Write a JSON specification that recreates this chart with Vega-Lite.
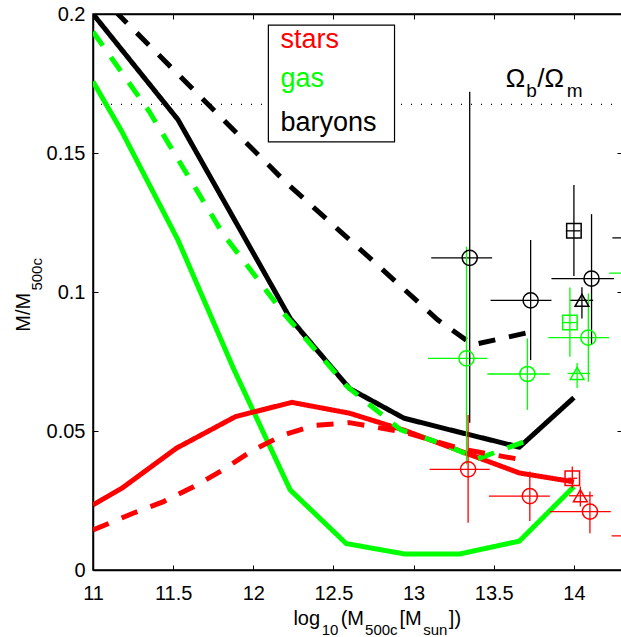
{
  "$schema": "https://vega.github.io/schema/vega-lite/v6.json",
  "width": 529,
  "height": 556,
  "autosize": {"type": "none"},
  "padding": {"left": 93, "top": 14, "right": 0, "bottom": 67},
  "background": "white",
  "config": {
    "view": {"stroke": "black", "strokeWidth": 1.5},
    "font": "Liberation Sans",
    "axis": {"grid": false, "domainColor": "black", "domainWidth": 1.5, "tickColor": "black", "tickWidth": 1, "tickSize": -5, "labelFont": "Liberation Sans", "labelFontSize": 20, "labelColor": "black"},
    "text": {"font": "Liberation Sans", "baseline": "alphabetic", "align": "left", "color": "black"}
  },
  "datasets": {
    "curves": [
      {"component": "baryons", "run": "A", "logM": 11.0, "frac": 0.2},
      {"component": "baryons", "run": "A", "logM": 11.53, "frac": 0.162},
      {"component": "baryons", "run": "A", "logM": 12.23, "frac": 0.0905},
      {"component": "baryons", "run": "A", "logM": 12.6, "frac": 0.0653},
      {"component": "baryons", "run": "A", "logM": 12.94, "frac": 0.0546},
      {"component": "baryons", "run": "A", "logM": 13.29, "frac": 0.0495},
      {"component": "baryons", "run": "A", "logM": 13.66, "frac": 0.0442},
      {"component": "baryons", "run": "A", "logM": 14.0, "frac": 0.062},
      {"component": "gas", "run": "A", "logM": 11.0, "frac": 0.1757},
      {"component": "gas", "run": "A", "logM": 11.18, "frac": 0.1577},
      {"component": "gas", "run": "A", "logM": 11.53, "frac": 0.1187},
      {"component": "gas", "run": "A", "logM": 11.88, "frac": 0.072},
      {"component": "gas", "run": "A", "logM": 12.23, "frac": 0.0288},
      {"component": "gas", "run": "A", "logM": 12.58, "frac": 0.0095},
      {"component": "gas", "run": "A", "logM": 12.94, "frac": 0.0058},
      {"component": "gas", "run": "A", "logM": 13.29, "frac": 0.0058},
      {"component": "gas", "run": "A", "logM": 13.66, "frac": 0.0104},
      {"component": "gas", "run": "A", "logM": 14.0, "frac": 0.03},
      {"component": "stars", "run": "A", "logM": 11.0, "frac": 0.0234},
      {"component": "stars", "run": "A", "logM": 11.18, "frac": 0.0294},
      {"component": "stars", "run": "A", "logM": 11.52, "frac": 0.0438},
      {"component": "stars", "run": "A", "logM": 11.89, "frac": 0.0552},
      {"component": "stars", "run": "A", "logM": 12.24, "frac": 0.0603},
      {"component": "stars", "run": "A", "logM": 12.6, "frac": 0.0564},
      {"component": "stars", "run": "A", "logM": 12.94, "frac": 0.0503},
      {"component": "stars", "run": "A", "logM": 13.29, "frac": 0.0428},
      {"component": "stars", "run": "A", "logM": 13.66, "frac": 0.0349},
      {"component": "stars", "run": "A", "logM": 14.0, "frac": 0.0317},
      {"component": "baryons", "run": "B", "logM": 11.0, "frac": 0.209},
      {"component": "baryons", "run": "B", "logM": 12.2, "frac": 0.1396},
      {"component": "baryons", "run": "B", "logM": 12.75, "frac": 0.111},
      {"component": "baryons", "run": "B", "logM": 13.15, "frac": 0.09},
      {"component": "baryons", "run": "B", "logM": 13.37, "frac": 0.081},
      {"component": "baryons", "run": "B", "logM": 13.73, "frac": 0.0856},
      {"component": "gas", "run": "B", "logM": 11.0, "frac": 0.1936},
      {"component": "gas", "run": "B", "logM": 11.35, "frac": 0.165},
      {"component": "gas", "run": "B", "logM": 11.81, "frac": 0.121},
      {"component": "gas", "run": "B", "logM": 12.19, "frac": 0.0923},
      {"component": "gas", "run": "B", "logM": 12.585, "frac": 0.066},
      {"component": "gas", "run": "B", "logM": 12.92, "frac": 0.0504},
      {"component": "gas", "run": "B", "logM": 13.17, "frac": 0.0456},
      {"component": "gas", "run": "B", "logM": 13.4, "frac": 0.04},
      {"component": "gas", "run": "B", "logM": 13.73, "frac": 0.047},
      {"component": "stars", "run": "B", "logM": 11.0, "frac": 0.0144},
      {"component": "stars", "run": "B", "logM": 11.25, "frac": 0.0204},
      {"component": "stars", "run": "B", "logM": 11.44, "frac": 0.0246},
      {"component": "stars", "run": "B", "logM": 11.63, "frac": 0.03},
      {"component": "stars", "run": "B", "logM": 11.81, "frac": 0.036},
      {"component": "stars", "run": "B", "logM": 12.0, "frac": 0.0432},
      {"component": "stars", "run": "B", "logM": 12.19, "frac": 0.0486},
      {"component": "stars", "run": "B", "logM": 12.38, "frac": 0.052},
      {"component": "stars", "run": "B", "logM": 12.6, "frac": 0.053},
      {"component": "stars", "run": "B", "logM": 12.95, "frac": 0.0495},
      {"component": "stars", "run": "B", "logM": 13.3, "frac": 0.0435},
      {"component": "stars", "run": "B", "logM": 13.66, "frac": 0.0398}
    ],
    "obs": [
      {"component": "baryons", "set": "P", "logM": 13.35, "frac": 0.1123, "xlo": 13.11, "xhi": 13.49, "ylo": 0.053, "yhi": 0.172},
      {"component": "baryons", "set": "P", "logM": 13.73, "frac": 0.097, "xlo": 13.48, "xhi": 13.86, "ylo": 0.0755, "yhi": 0.1187},
      {"component": "baryons", "set": "Q", "logM": 14.0, "frac": 0.122, "xlo": 13.95, "xhi": 14.04, "ylo": 0.1058, "yhi": 0.1385},
      {"component": "baryons", "set": "P", "logM": 14.11, "frac": 0.1048, "xlo": 13.86, "xhi": 14.25, "ylo": 0.081, "yhi": 0.128},
      {"component": "baryons", "set": "R", "logM": 14.05, "frac": 0.097, "xlo": 13.975, "xhi": 14.12, "ylo": 0.0905, "yhi": 0.1017},
      {"component": "baryons", "set": "P", "logM": 14.5, "frac": 0.1195, "xlo": 14.24, "xhi": 14.76, "ylo": 0.1, "yhi": 0.14},
      {"component": "gas", "set": "P", "logM": 13.33, "frac": 0.0761, "xlo": 13.09, "xhi": 13.46, "ylo": 0.038, "yhi": 0.1163},
      {"component": "gas", "set": "P", "logM": 13.71, "frac": 0.0705, "xlo": 13.46, "xhi": 13.85, "ylo": 0.0576, "yhi": 0.0833},
      {"component": "gas", "set": "Q", "logM": 13.975, "frac": 0.089, "xlo": 13.93, "xhi": 14.02, "ylo": 0.0767, "yhi": 0.1016},
      {"component": "gas", "set": "P", "logM": 14.09, "frac": 0.0836, "xlo": 13.84, "xhi": 14.22, "ylo": 0.0677, "yhi": 0.0995},
      {"component": "gas", "set": "R", "logM": 14.02, "frac": 0.0707, "xlo": 13.96, "xhi": 14.1, "ylo": 0.0655, "yhi": 0.0745},
      {"component": "gas", "set": "P", "logM": 14.5, "frac": 0.1068, "xlo": 14.22, "xhi": 14.76, "ylo": 0.09, "yhi": 0.125},
      {"component": "stars", "set": "P", "logM": 13.34, "frac": 0.0362, "xlo": 13.1, "xhi": 13.475, "ylo": 0.017, "yhi": 0.0558},
      {"component": "stars", "set": "P", "logM": 13.725, "frac": 0.0266, "xlo": 13.47, "xhi": 13.85, "ylo": 0.0176, "yhi": 0.0354},
      {"component": "stars", "set": "Q", "logM": 13.99, "frac": 0.033, "xlo": 13.96, "xhi": 14.02, "ylo": 0.0294, "yhi": 0.0372},
      {"component": "stars", "set": "R", "logM": 14.04, "frac": 0.0267, "xlo": 13.97, "xhi": 14.12, "ylo": 0.0228, "yhi": 0.03},
      {"component": "stars", "set": "P", "logM": 14.1, "frac": 0.021, "xlo": 13.85, "xhi": 14.23, "ylo": 0.0132, "yhi": 0.0282},
      {"component": "stars", "set": "P", "logM": 14.5, "frac": 0.0123, "xlo": 14.235, "xhi": 14.76, "ylo": 0.006, "yhi": 0.02}
    ],
    "one": [{}]
  },
  "layer": [
    {
      "data": {"name": "one"},
      "mark": {"type": "rule", "strokeDash": [1, 9], "strokeWidth": 1.2, "color": "black"},
      "encoding": {"y": {"datum": 0.1675, "type": "quantitative", "axis": null}}
    },
    {
      "data": {"name": "curves"},
      "mark": {"type": "line", "strokeWidth": 5, "clip": true},
      "encoding": {
        "x": {"field": "logM", "type": "quantitative", "scale": {"domain": [11, 14.3], "nice": false, "zero": false},
              "axis": {"orient": "bottom", "values": [11, 11.5, 12, 12.5, 13, 13.5, 14], "format": "~g", "title": null, "labelPadding": 18, "labelFlush": false}},
        "y": {"field": "frac", "type": "quantitative", "scale": {"domain": [0, 0.2], "nice": false},
              "axis": {"orient": "left", "values": [0, 0.05, 0.1, 0.15, 0.2], "format": "~g", "title": null, "labelPadding": 13}},
        "color": {"field": "component", "type": "nominal", "scale": {"domain": ["stars", "gas", "baryons"], "range": ["#ff0000", "#00ff00", "#000000"]}, "legend": null},
        "strokeDash": {"field": "run", "type": "nominal", "scale": {"domain": ["A", "B"], "range": [[1, 0], [17, 14]]}, "legend": null}
      }
    },
    {
      "data": {"name": "obs"},
      "mark": {"type": "rule", "strokeWidth": 1.3, "clip": true},
      "encoding": {
        "x": {"field": "xlo", "type": "quantitative", "axis": null},
        "x2": {"field": "xhi"},
        "y": {"field": "frac", "type": "quantitative", "axis": null},
        "color": {"field": "component", "type": "nominal", "legend": null}
      }
    },
    {
      "data": {"name": "obs"},
      "mark": {"type": "rule", "strokeWidth": 1.3, "clip": true},
      "encoding": {
        "x": {"field": "logM", "type": "quantitative", "axis": null},
        "y": {"field": "ylo", "type": "quantitative", "axis": null},
        "y2": {"field": "yhi"},
        "color": {"field": "component", "type": "nominal", "legend": null}
      }
    },
    {
      "data": {"name": "obs"},
      "mark": {"type": "point", "filled": false, "strokeWidth": 1.5, "opacity": 1, "clip": true},
      "encoding": {
        "x": {"field": "logM", "type": "quantitative",
              "axis": {"orient": "top", "labels": false, "values": [11, 11.5, 12, 12.5, 13, 13.5, 14], "title": null}},
        "y": {"field": "frac", "type": "quantitative",
              "axis": {"orient": "right", "labels": false, "values": [0, 0.05, 0.1, 0.15, 0.2], "title": null}},
        "color": {"field": "component", "type": "nominal", "legend": null},
        "shape": {"field": "set", "type": "nominal", "scale": {"domain": ["P", "Q", "R"], "range": ["circle", "square", "triangle-up"]}, "legend": null},
        "size": {"field": "set", "type": "nominal", "scale": {"domain": ["P", "Q", "R"], "range": [230, 190, 430]}, "legend": null}
      }
    },
    {
      "data": {"name": "one"},
      "mark": {"type": "rect", "fill": "white", "stroke": "black", "strokeWidth": 1.2},
      "encoding": {
        "x": {"datum": 12.094, "type": "quantitative", "axis": null},
        "x2": {"datum": 12.881},
        "y": {"datum": 0.196, "type": "quantitative", "axis": null},
        "y2": {"datum": 0.154}
      }
    },
    {
      "data": {"name": "one"},
      "mark": {"type": "text", "text": "stars", "fontSize": 27, "color": "#ff0000"},
      "encoding": {"x": {"datum": 12.169, "type": "quantitative", "axis": null}, "y": {"datum": 0.1877, "type": "quantitative", "axis": null}}
    },
    {
      "data": {"name": "one"},
      "mark": {"type": "text", "text": "gas", "fontSize": 27, "color": "#00ff00"},
      "encoding": {"x": {"datum": 12.169, "type": "quantitative", "axis": null}, "y": {"datum": 0.1738, "type": "quantitative", "axis": null}}
    },
    {
      "data": {"name": "one"},
      "mark": {"type": "text", "text": "baryons", "fontSize": 27, "color": "#000000"},
      "encoding": {"x": {"datum": 12.169, "type": "quantitative", "axis": null}, "y": {"datum": 0.1579, "type": "quantitative", "axis": null}}
    },
    {
      "data": {"name": "one"},
      "mark": {"type": "text", "text": "Ω", "fontSize": 26},
      "encoding": {"x": {"datum": 13.575, "type": "quantitative", "axis": null}, "y": {"datum": 0.1737, "type": "quantitative", "axis": null}}
    },
    {
      "data": {"name": "one"},
      "mark": {"type": "text", "text": "b", "fontSize": 19},
      "encoding": {"x": {"datum": 13.702, "type": "quantitative", "axis": null}, "y": {"datum": 0.1703, "type": "quantitative", "axis": null}}
    },
    {
      "data": {"name": "one"},
      "mark": {"type": "text", "text": "/Ω", "fontSize": 26},
      "encoding": {"x": {"datum": 13.772, "type": "quantitative", "axis": null}, "y": {"datum": 0.1737, "type": "quantitative", "axis": null}}
    },
    {
      "data": {"name": "one"},
      "mark": {"type": "text", "text": "m", "fontSize": 19},
      "encoding": {"x": {"datum": 13.955, "type": "quantitative", "axis": null}, "y": {"datum": 0.1703, "type": "quantitative", "axis": null}}
    },
    {
      "data": {"name": "one"},
      "mark": {"type": "text", "text": "log", "fontSize": 20},
      "encoding": {"x": {"datum": 12.25, "type": "quantitative", "axis": null}, "y": {"datum": -0.0198, "type": "quantitative", "axis": null}}
    },
    {
      "data": {"name": "one"},
      "mark": {"type": "text", "text": "10", "fontSize": 15},
      "encoding": {"x": {"datum": 12.427, "type": "quantitative", "axis": null}, "y": {"datum": -0.0234, "type": "quantitative", "axis": null}}
    },
    {
      "data": {"name": "one"},
      "mark": {"type": "text", "text": "(M", "fontSize": 20},
      "encoding": {"x": {"datum": 12.545, "type": "quantitative", "axis": null}, "y": {"datum": -0.0198, "type": "quantitative", "axis": null}}
    },
    {
      "data": {"name": "one"},
      "mark": {"type": "text", "text": "500c", "fontSize": 15},
      "encoding": {"x": {"datum": 12.697, "type": "quantitative", "axis": null}, "y": {"datum": -0.0234, "type": "quantitative", "axis": null}}
    },
    {
      "data": {"name": "one"},
      "mark": {"type": "text", "text": "[M", "fontSize": 20},
      "encoding": {"x": {"datum": 12.912, "type": "quantitative", "axis": null}, "y": {"datum": -0.0198, "type": "quantitative", "axis": null}}
    },
    {
      "data": {"name": "one"},
      "mark": {"type": "text", "text": "sun", "fontSize": 15},
      "encoding": {"x": {"datum": 13.06, "type": "quantitative", "axis": null}, "y": {"datum": -0.0234, "type": "quantitative", "axis": null}}
    },
    {
      "data": {"name": "one"},
      "mark": {"type": "text", "text": "])", "fontSize": 20},
      "encoding": {"x": {"datum": 13.22, "type": "quantitative", "axis": null}, "y": {"datum": -0.0198, "type": "quantitative", "axis": null}}
    },
    {
      "data": {"name": "one"},
      "mark": {"type": "text", "text": "M/M", "fontSize": 20, "angle": 270},
      "encoding": {"x": {"datum": 10.606, "type": "quantitative", "axis": null}, "y": {"datum": 0.0857, "type": "quantitative", "axis": null}}
    },
    {
      "data": {"name": "one"},
      "mark": {"type": "text", "text": "500c", "fontSize": 15, "angle": 270},
      "encoding": {"x": {"datum": 10.679, "type": "quantitative", "axis": null}, "y": {"datum": 0.1005, "type": "quantitative", "axis": null}}
    }
  ],
  "resolve": {"axis": {"x": "independent", "y": "independent"}}
}
